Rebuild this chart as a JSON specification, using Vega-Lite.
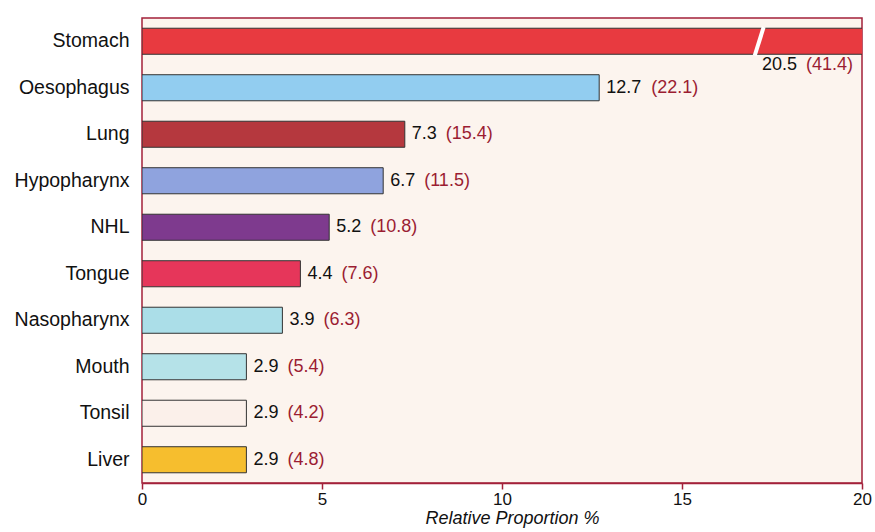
{
  "$schema": "https://vega.github.io/schema/vega-lite/v6.json",
  "width": 720,
  "height": 465,
  "autosize": {"type": "none"},
  "padding": {"left": 142, "top": 18, "right": 13, "bottom": 49},
  "background": "white",
  "config": {
    "font": "Liberation Sans",
    "view": {"stroke": "#a3213a", "strokeWidth": 1.5, "fill": "#fcf4ee"}
  },
  "data": {
    "values": [
      {"site": "Stomach", "value": 20.5, "total": 41.4, "paren": "(41.4)"},
      {"site": "Oesophagus", "value": 12.7, "total": 22.1, "paren": "(22.1)"},
      {"site": "Lung", "value": 7.3, "total": 15.4, "paren": "(15.4)"},
      {"site": "Hypopharynx", "value": 6.7, "total": 11.5, "paren": "(11.5)"},
      {"site": "NHL", "value": 5.2, "total": 10.8, "paren": "(10.8)"},
      {"site": "Tongue", "value": 4.4, "total": 7.6, "paren": "(7.6)"},
      {"site": "Nasopharynx", "value": 3.9, "total": 6.3, "paren": "(6.3)"},
      {"site": "Mouth", "value": 2.9, "total": 5.4, "paren": "(5.4)"},
      {"site": "Tonsil", "value": 2.9, "total": 4.2, "paren": "(4.2)"},
      {"site": "Liver", "value": 2.9, "total": 4.8, "paren": "(4.8)"}
    ]
  },
  "encoding": {
    "y": {
      "field": "site",
      "type": "nominal",
      "sort": null,
      "scale": {"paddingInner": 0.44, "paddingOuter": 0.22},
      "axis": {
        "title": null,
        "ticks": false,
        "domain": false,
        "labelFontSize": 19.5,
        "labelColor": "#111111",
        "labelPadding": 13
      }
    }
  },
  "layer": [
    {
      "mark": {"type": "bar", "clip": true, "stroke": "#333333", "strokeWidth": 1},
      "encoding": {
        "x": {
          "field": "value",
          "type": "quantitative",
          "scale": {"domain": [0, 20], "nice": false, "zero": true},
          "axis": {
            "values": [0, 5, 10, 15, 20],
            "grid": false,
            "domainColor": "#a3213a",
            "domainWidth": 1.5,
            "tickColor": "#a3213a",
            "tickWidth": 1.5,
            "tickSize": 6,
            "labelFontSize": 17,
            "labelColor": "#111111",
            "labelPadding": 2,
            "labelFlush": false,
            "title": "Relative Proportion %",
            "titleFontStyle": "italic",
            "titleFontWeight": "normal",
            "titleFontSize": 18,
            "titleColor": "#111111",
            "titlePadding": 2,
            "titleX": 370,
            "titleAlign": "center"
          }
        },
        "color": {
          "field": "site",
          "type": "nominal",
          "legend": null,
          "scale": {
            "domain": ["Stomach", "Oesophagus", "Lung", "Hypopharynx", "NHL", "Tongue", "Nasopharynx", "Mouth", "Tonsil", "Liver"],
            "range": ["#e83a40", "#92cdf0", "#b5383e", "#8fa3de", "#7e3a8e", "#e6365a", "#abdee8", "#b5e2e8", "#fbf0ea", "#f6be2e"]
          }
        }
      }
    },
    {
      "transform": [{"filter": "datum.site === 'Stomach'"}],
      "mark": {"type": "rule", "color": "white", "strokeWidth": 4, "strokeCap": "butt"},
      "encoding": {
        "x": {"datum": 17.02, "type": "quantitative"},
        "x2": {"datum": 17.27},
        "y": {"field": "site", "type": "nominal", "sort": null, "bandPosition": 1.05},
        "y2": {"field": "site", "bandPosition": -0.05}
      }
    },
    {
      "transform": [{"filter": "datum.value < 20"}],
      "mark": {"type": "text", "align": "left", "baseline": "middle", "dx": 7, "fontSize": 18, "color": "#111111"},
      "encoding": {
        "x": {"field": "value", "type": "quantitative"},
        "text": {"field": "value", "type": "quantitative", "format": ".1f"}
      }
    },
    {
      "transform": [{"filter": "datum.value < 10"}],
      "mark": {"type": "text", "align": "left", "baseline": "middle", "dx": 41, "fontSize": 18, "color": "#9b1d32"},
      "encoding": {
        "x": {"field": "value", "type": "quantitative"},
        "text": {"field": "paren"}
      }
    },
    {
      "transform": [{"filter": "datum.value >= 10 && datum.value < 20"}],
      "mark": {"type": "text", "align": "left", "baseline": "middle", "dx": 52, "fontSize": 18, "color": "#9b1d32"},
      "encoding": {
        "x": {"field": "value", "type": "quantitative"},
        "text": {"field": "paren"}
      }
    },
    {
      "transform": [{"filter": "datum.value >= 20"}],
      "mark": {"type": "text", "align": "right", "baseline": "middle", "dx": -65, "dy": 24, "fontSize": 18, "color": "#111111"},
      "encoding": {
        "x": {"datum": 20, "type": "quantitative"},
        "text": {"field": "value", "type": "quantitative", "format": ".1f"}
      }
    },
    {
      "transform": [{"filter": "datum.value >= 20"}],
      "mark": {"type": "text", "align": "right", "baseline": "middle", "dx": -9, "dy": 24, "fontSize": 18, "color": "#9b1d32"},
      "encoding": {
        "x": {"datum": 20, "type": "quantitative"},
        "text": {"field": "paren"}
      }
    }
  ]
}
